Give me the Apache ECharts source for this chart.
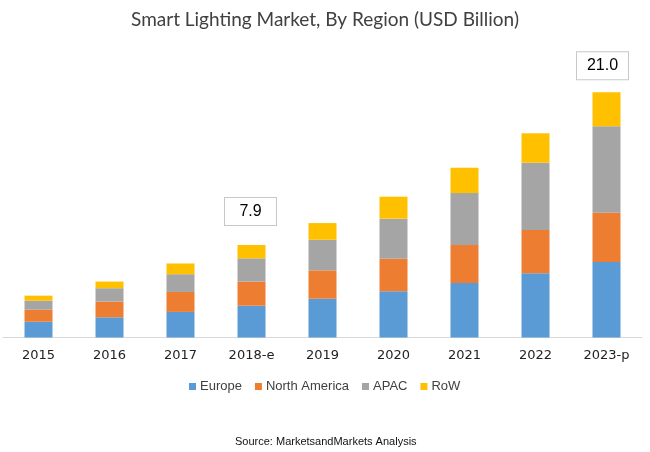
<!DOCTYPE html>
<html>
<head>
<meta charset="utf-8">
<script src="https://cdn.jsdelivr.net/npm/echarts@6/dist/echarts.min.js"></script>
<style>
html,body{margin:0;padding:0;background:#fff;}
#chart{width:650px;height:452px;}
</style>
</head>
<body>
<div id="chart"></div>
<script>
var categories = ['2015','2016','2017','2018-e','2019','2020','2021','2022','2023-p'];
var europe = [1.35, 1.73, 2.19, 2.72, 3.32, 3.96, 4.67, 5.50, 6.47];
var northAmerica = [1.03, 1.34, 1.71, 2.06, 2.43, 2.79, 3.25, 3.71, 4.22];
var apac = [0.77, 1.15, 1.52, 2.00, 2.62, 3.43, 4.45, 5.76, 7.40];
var row = [0.43, 0.57, 0.92, 1.14, 1.43, 1.88, 2.17, 2.52, 2.91];
var annotIndex = [3, 8];
var annotText = ['7.9', '21.0'];

var annotStyle = {
  3: {distance: 20, offset: [-1, 0]},
  8: {distance: 13, offset: [-4, 0]}
};

var rowData = row.map(function (v, i) {
  var k = annotIndex.indexOf(i);
  if (k < 0) return v;
  return {
    value: v,
    label: {
      show: true,
      position: 'top',
      distance: annotStyle[i].distance,
      offset: annotStyle[i].offset,
      formatter: annotText[k],
      fontSize: 16,
      fontFamily: 'Liberation Sans, Arial, sans-serif',
      color: '#000',
      lineHeight: 19,
      width: 31,
      align: 'center',
      padding: [4, 10, 4, 10],
      borderColor: '#c8c8c8',
      borderWidth: 1,
      backgroundColor: '#fff'
    }
  };
});

var chart = echarts.init(document.getElementById('chart'), null, {renderer: 'canvas'});
var common = {type: 'bar', stack: 'total', barWidth: 28};
chart.setOption({
  animation: false,
  backgroundColor: '#fff',
  title: [{
    text: 'Smart Lighting Market, By Region (USD Billion)',
    left: 'center',
    top: 5,
    textStyle: {fontSize: 19, fontWeight: 'normal', color: '#404040', fontFamily: 'Lato, Liberation Sans, sans-serif'}
  }, {
    text: 'Source: MarketsandMarkets Analysis',
    left: 230,
    top: 431,
    textStyle: {fontSize: 11, fontWeight: 'normal', color: '#111', fontFamily: 'Liberation Sans, Arial, sans-serif'}
  }],
  legend: {
    left: 184,
    top: 375,
    itemWidth: 7,
    itemHeight: 7,
    itemGap: 13,
    icon: 'rect',
    textStyle: {fontSize: 13, color: '#404040', fontFamily: 'Liberation Sans, Arial, sans-serif', padding: [0,0,0,-1]},
    data: ['Europe', 'North America', 'APAC', 'RoW']
  },
  grid: {left: 3, right: 8, top: 45.6, bottom: 114.5, containLabel: false},
  xAxis: {
    type: 'category',
    data: categories,
    axisLine: {lineStyle: {color: '#d9d9d9', width: 1}},
    axisTick: {show: false},
    axisLabel: {fontSize: 13, color: '#222', margin: 12, fontFamily: 'DejaVu Sans, Verdana, sans-serif'}
  },
  yAxis: {type: 'value', min: 0, max: 25, show: false, splitLine: {show: false}},
  series: [
    Object.assign({name: 'Europe', data: europe, itemStyle: {color: '#5B9BD5'}}, common),
    Object.assign({name: 'North America', data: northAmerica, itemStyle: {color: '#ED7D31'}}, common),
    Object.assign({name: 'APAC', data: apac, itemStyle: {color: '#A5A5A5'}}, common),
    Object.assign({name: 'RoW', data: rowData, itemStyle: {color: '#FFC000'}}, common)
  ]
});
</script>
</body>
</html>
